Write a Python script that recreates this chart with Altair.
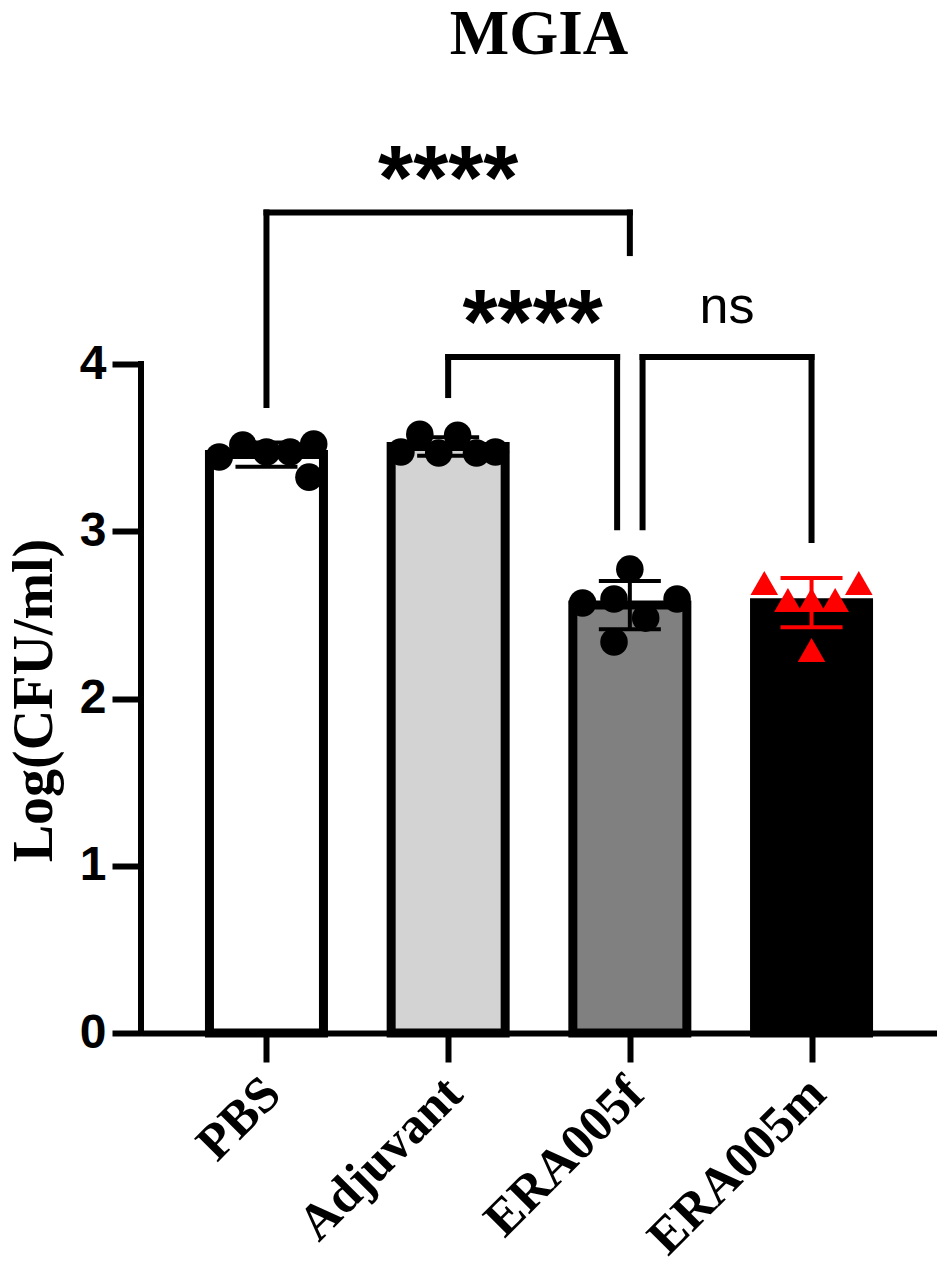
import json
import altair as alt
import pandas as pd

# ---------------- data ----------------
groups = ["PBS", "Adjuvant", "ERA005f", "ERA005m"]
bar_fill = ["#ffffff", "#d3d3d3", "#808080", "#000000"]
point_color = ["#000000", "#000000", "#000000", "#ff0000"]
point_shape = ["circle", "circle", "circle", "triangle-up"]

pbs = [3.444, 3.516, 3.474, 3.474, 3.522, 3.324]
adjuvant = [3.474, 3.581, 3.468, 3.575, 3.468, 3.474]
era005f = [2.571, 2.774, 2.595, 2.481, 2.338, 2.595]
era005m = [2.691, 2.589, 2.589, 2.589, 2.691, 2.290]

# scatter column slot of each replicate inside its bar
pbs_col = [-2, -1, 0, 1, 2, 1.8]
adjuvant_col = [-2, -1.2, -0.4, 0.4, 1.2, 2]
era005f_col = [-2, 0, -0.67, 0.67, -0.67, 2]
era005m_col = [-2, -1, 0, 1, 2, 0]

cmp_from = ["PBS", "Adjuvant", "ERA005f"]
cmp_to = ["ERA005f", "ERA005f", "ERA005m"]
cmp_level = [4.906, 4.042, 4.042]
cmp_from_end = [3.755, 3.815, 3.025]
cmp_to_end = [4.664, 3.025, 2.948]
cmp_label = ["****", "****", "ns"]

y_ticks = [0, 1, 2, 3, 4]
chart_title = "MGIA"
y_title = "Log(CFU/ml)"

# ---------------- tables ----------------
values = [pbs, adjuvant, era005f, era005m]
cols = [pbs_col, adjuvant_col, era005f_col, era005m_col]
rows = []
for i, g in enumerate(groups):
    for v, c in zip(values[i], cols[i]):
        rows.append({"group": g, "idx": i, "value": v, "col": c})
points_df = pd.DataFrame(rows)

NUDGE = 0.07
seg_rows, lab_rows = [], []
for k in range(len(cmp_from)):
    a = groups.index(cmp_from[k])
    b = groups.index(cmp_to[k])
    xa, xb = float(a), float(b)
    for j in range(len(cmp_from)):
        if j != k and cmp_level[j] == cmp_level[k]:
            if cmp_from[j] == cmp_to[k]:
                xb -= NUDGE
            if cmp_to[j] == cmp_from[k]:
                xa += NUDGE
    lvl = cmp_level[k]
    seg_rows.append({"x": xa, "x2": xb, "y": lvl, "y2": lvl})
    seg_rows.append({"x": xa, "x2": xa, "y": lvl, "y2": cmp_from_end[k]})
    seg_rows.append({"x": xb, "x2": xb, "y": lvl, "y2": cmp_to_end[k]})
    lab_rows.append({"xm": (xa + xb) / 2, "level": lvl, "label": cmp_label[k],
                     "stars": cmp_label[k] != "ns"})
seg_df = pd.DataFrame(seg_rows)
lab_df = pd.DataFrame(lab_rows)
yline_df = pd.DataFrame({"lo": [y_ticks[0]], "hi": [y_ticks[-1]]})

# ---------------- scales / axes ----------------
x_scale = alt.Scale(domain=[-0.663, len(groups) - 1 + 0.663], nice=False, zero=False)
y_scale = alt.Scale(domain=[0, 5.4], nice=False, zero=False)

x_axis = alt.Axis(
    values=list(range(len(groups))),
    labelExpr=json.dumps(groups) + "[datum.value]",
    title=None, grid=False,
    domain=True, domainWidth=6, domainColor="black",
    ticks=True, tickSize=29, tickWidth=6, tickColor="black",
    labelAngle=-45, labelAlign="right", labelBaseline="top",
    labelFont="Liberation Serif", labelFontSize=51, labelFontWeight="bold",
    labelColor="black", labelPadding=6, labelOffset=-12, labelLimit=0,
    labelFlush=False, labelOverlap=False, labelBound=False,
)
y_axis = alt.Axis(
    values=y_ticks, grid=False, domain=False,
    ticks=True, tickSize=29, tickWidth=6, tickColor="black",
    labelFont="Liberation Sans", labelFontSize=48, labelFontWeight="bold",
    labelColor="black", labelPadding=6, labelFlush=False,
    title=y_title, titleFont="Liberation Serif", titleFontSize=56,
    titleFontWeight="bold", titleColor="black", titleAngle=270,
    titleAlign="center", titleBaseline="alphabetic", titleX=-90, titleY=570,
)


def X(field):
    return alt.X(field, type="quantitative", scale=x_scale, axis=x_axis)


def Y(field):
    return alt.Y(field, type="quantitative", scale=y_scale, axis=y_axis)


color_scale = alt.Scale(domain=groups, range=point_color)

bars = alt.Chart(points_df).mark_bar(
    stroke="black", strokeWidth=9, size=114, orient="vertical"
).encode(
    x=X("idx"),
    y=alt.Y("mean(value):Q", scale=y_scale, axis=y_axis),
    fill=alt.Fill("group:N", scale=alt.Scale(domain=groups, range=bar_fill), legend=None),
)

yline = alt.Chart(yline_df).mark_rule(color="black", strokeWidth=6, strokeCap="square").encode(
    x=alt.value(0),
    y=Y("lo"),
    y2="hi:Q",
)

pts = alt.Chart(points_df).transform_calculate(
    px="datum.idx + datum.col * 0.13"
).mark_point(filled=True, size=760, opacity=1).encode(
    x=X("px"),
    y=Y("value"),
    color=alt.Color("group:N", scale=color_scale, legend=None),
    shape=alt.Shape("group:N", scale=alt.Scale(domain=groups, range=point_shape), legend=None),
)

err_base = alt.Chart(points_df).transform_aggregate(
    m="mean(value)", s="stdev(value)", groupby=["group", "idx"]
).transform_calculate(lo="datum.m - datum.s", hi="datum.m + datum.s")

err_rule = err_base.mark_rule(strokeWidth=4).encode(
    x=X("idx"), y=Y("lo"), y2="hi:Q",
    color=alt.Color("group:N", scale=color_scale, legend=None),
)
err_lo = err_base.mark_tick(orient="horizontal", size=62, thickness=4, opacity=1).encode(
    x=X("idx"), y=Y("lo"),
    color=alt.Color("group:N", scale=color_scale, legend=None),
)
err_hi = err_base.mark_tick(orient="horizontal", size=62, thickness=4, opacity=1).encode(
    x=X("idx"), y=Y("hi"),
    color=alt.Color("group:N", scale=color_scale, legend=None),
)

brackets = alt.Chart(seg_df).mark_rule(color="black", strokeWidth=6, strokeCap="square").encode(
    x=X("x"), x2="x2:Q", y=Y("y"), y2="y2:Q",
)

lab_stars = alt.Chart(lab_df).transform_filter("datum.stars").mark_text(
    font="Liberation Sans", fontWeight="bold", fontSize=90, baseline="alphabetic",
    align="center", dy=-4, color="black"
).encode(x=X("xm"), y=Y("level"), text="label:N")

lab_ns = alt.Chart(lab_df).transform_filter("!datum.stars").mark_text(
    font="Liberation Sans", fontWeight="normal", fontSize=52, baseline="alphabetic",
    align="center", dy=-34, color="black"
).encode(x=X("xm"), y=Y("level"), text="label:N")

chart = alt.layer(
    bars, yline, pts, err_rule, err_lo, err_hi, brackets, lab_stars, lab_ns
).properties(
    width=796,
    height=903,
    title=alt.TitleParams(
        text=chart_title, font="Liberation Serif", fontSize=63, fontWeight="bold",
        anchor="middle", frame="group", baseline="alphabetic", offset=13, color="black",
    ),
    padding={"left": 133, "top": 122, "right": 0, "bottom": 234},
    autosize=alt.AutoSizeParams(type="none"),
    background="white",
).configure_view(stroke=None)

chart.save("out.html", embed_options={"renderer": "svg", "actions": False})
